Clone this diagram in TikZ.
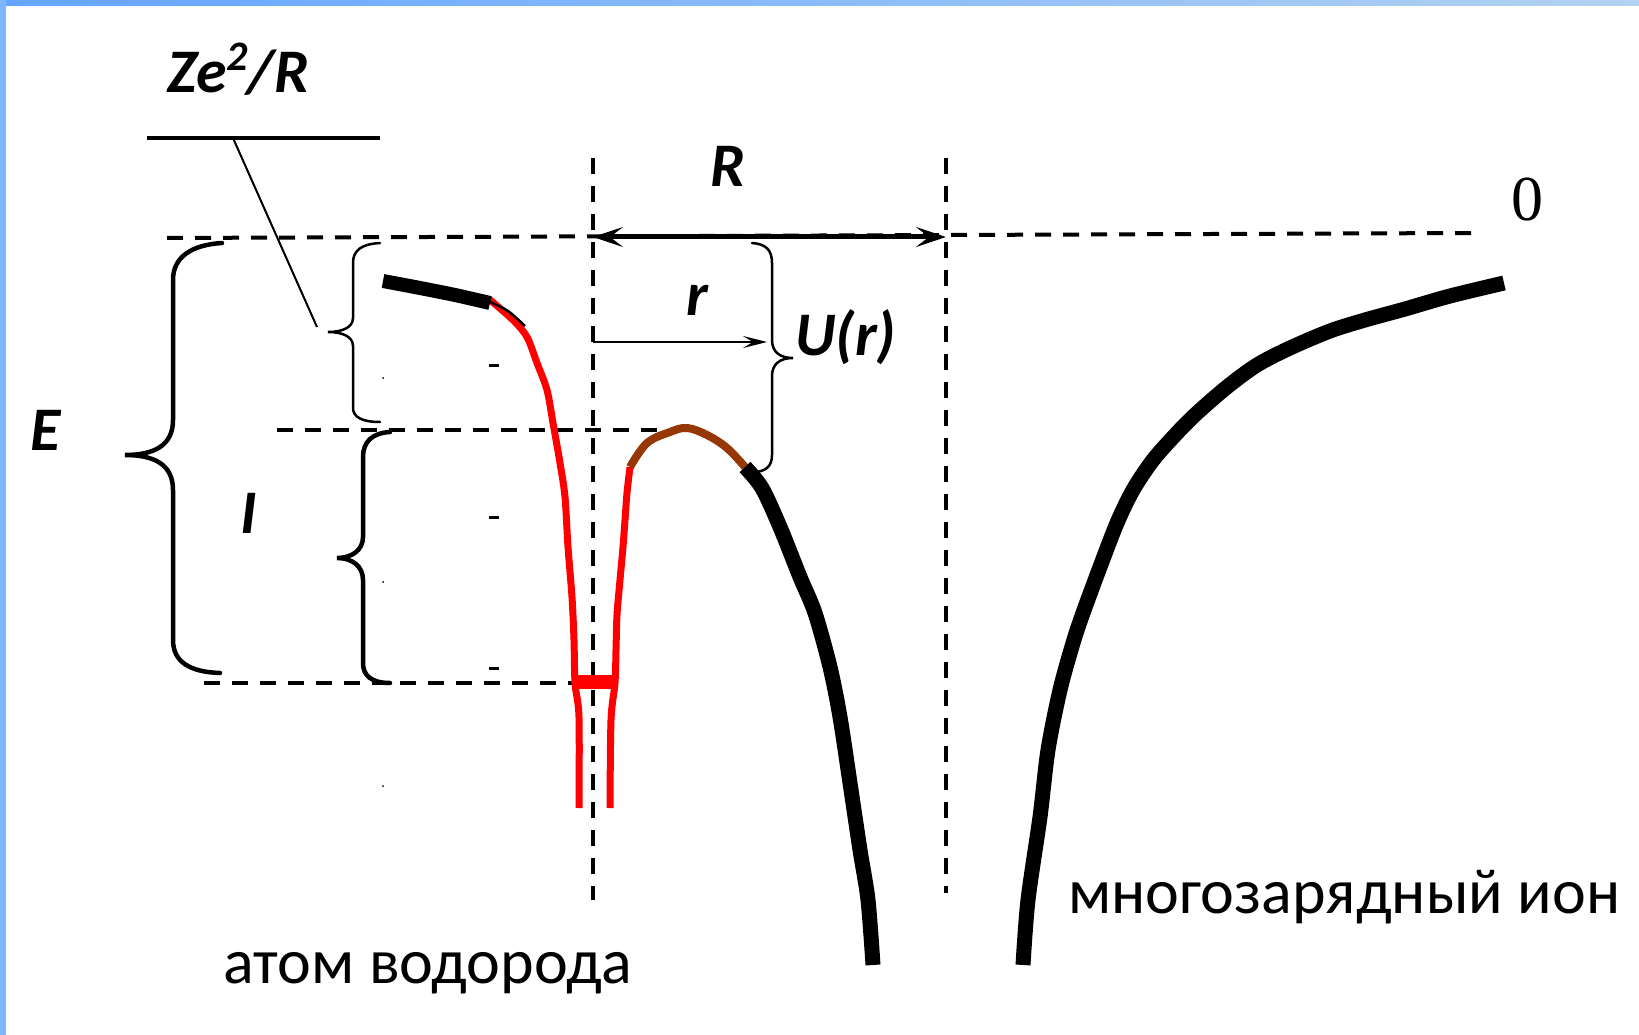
\documentclass[tikz,border=0pt]{standalone}
\usepackage{fontspec}
\setmainfont{Carlito}
\newfontfamily\serifzero{Liberation Serif}
\usetikzlibrary{arrows.meta}
\definecolor{barA}{RGB}{100,165,255}
\definecolor{barB}{RGB}{135,195,255}
\definecolor{barC}{RGB}{178,210,242}
\definecolor{barL}{RGB}{125,183,255}
\definecolor{wellred}{RGB}{255,0,0}
\definecolor{brownpeak}{RGB}{150,55,5}
\tikzset{
  bigtip/.tip={Stealth[length=30pt,width=20pt,inset=13pt]},
  smalltip/.tip={Stealth[length=24pt,width=12pt,inset=10pt]}}
\begin{document}
\begin{tikzpicture}[x=1pt,y=-1pt,
  dashline/.style={line width=4pt, dash pattern=on 16pt off 12pt},
  lbl/.style={font=\fontsize{62}{70}\selectfont\bfseries\itshape, inner sep=0pt},
  rus/.style={font=\fontsize{64}{70}\selectfont, inner sep=0pt},
  thickcurve/.style={line width=15pt, line join=round},
  redcurve/.style={wellred, line width=7pt, line join=round},
  bigbrace/.style={line width=4.5pt, line cap=round},
  smallbrace/.style={line width=2.5pt, line cap=round}]
\useasboundingbox (0,0) rectangle (1639,1035);
\fill[white] (0,0) rectangle (1639,1035);
% frame bars
\shade[left color=barA, middle color=barB, right color=barC] (0,0) rectangle (1639,6);
\fill[barL] (0,0) rectangle (6,1035);

% coordinates
\coordinate (topL) at (167,238);
\coordinate (topR) at (1472,233);
\coordinate (midL) at (277,430);
\coordinate (midR) at (685,430);
\coordinate (lowL) at (204,683);
\coordinate (lowR) at (578,683);
\coordinate (v1t) at (593,158);
\coordinate (v1b) at (593,900);
\coordinate (v2t) at (946,158);
\coordinate (v2b) at (946,893);
\coordinate (Rl) at (593,237);
\coordinate (Rr) at (946,237);
\coordinate (rl) at (593,342);
\coordinate (rr) at (767,342);

% dashed guide lines
\draw[dashline] (topL) -- (topR);
\draw[dashline] (midL) -- (midR);
\draw[dashline] (lowL) -- (lowR);
\draw[dashline] (v1t) -- (v1b);
\draw[dashline] (v2t) -- (v2b);

% R and r arrows
\draw[line width=5pt, bigtip-bigtip] (Rl) -- (Rr);
\draw[line width=2pt, -smalltip] (rl) -- (rr);

% Ze^2/R label line
\coordinate (zl) at (147,138);
\coordinate (zr) at (380,138);
\coordinate (zs) at (233,138);
\coordinate (zt) at (317,327);
\draw[line width=3.5pt] (zl) -- (zr);
\draw[line width=2pt] (zs) -- (zt);

% braces
\draw[bigbrace] (222,243) .. controls (190,245) and (173,258) .. (173,280) -- (173,420)
  .. controls (173,445) and (155,455) .. (125,455)
  .. controls (155,455) and (173,465) .. (173,490) -- (173,640)
  .. controls (173,662) and (190,672) .. (220,673);
\draw[bigbrace] (390,432) .. controls (372,433) and (363,442) .. (363,457) -- (363,537)
  .. controls (363,550) and (352,558) .. (337,558)
  .. controls (352,558) and (363,566) .. (363,580) -- (363,663)
  .. controls (363,676) and (372,683) .. (390,683);
\draw[smallbrace] (380,243) .. controls (362,244) and (353,250) .. (353,263) -- (353,318)
  .. controls (353,327) and (343,332) .. (328,332)
  .. controls (343,332) and (353,337) .. (353,346) -- (353,408)
  .. controls (353,417) and (362,422) .. (380,422);
\draw[smallbrace] (752,243) .. controls (766,244) and (772,250) .. (772,263) -- (772,340)
  .. controls (772,352) and (780,358) .. (793,358)
  .. controls (780,358) and (772,364) .. (772,376) -- (772,455)
  .. controls (772,466) and (766,472) .. (753,472);

% small ticks and dots
\foreach \yy in {365,517,668} \draw[line width=3pt] (489,\yy) -- (499,\yy);
\foreach \yy in {378,582,786} \fill (383,\yy) circle (1pt);

% hydrogen well (red)
\draw[redcurve] plot[smooth, tension=0.5] coordinates {(489,299) (513,320) (527,337) (537,363) (547,390) (553,423) (560,463) (565,497) (568,547) (572,597) (574,640) (575,683) (579,717) (579,808)};
\draw[redcurve] plot[smooth, tension=0.5] coordinates {(630,467) (627,493) (625,520) (623,547) (620,580) (617,615) (616,650) (615,683) (611,720) (610,808)};
\draw[wellred, line width=14pt] (575,682) -- (616,682);

% barrier top (brown)
\draw[brownpeak, line width=8pt, line join=round] plot[smooth, tension=0.6] coordinates {(630,467) (647,443) (670,432) (687,428) (707,435) (727,448) (745,467)};

% black curves
\draw[line width=14pt] plot[smooth, tension=0.5] coordinates {(383,281) (420,288) (455,295) (490,303)};
\draw[line width=2.5pt] plot[smooth] coordinates {(488,301) (508,311) (525,326)};
\draw[thickcurve] plot[smooth, tension=0.5] coordinates {(745,467) (762,488) (780,527) (800,577) (815,613) (830,667) (840,717) (850,783) (860,850) (868,900) (873,965)};
\draw[thickcurve] plot[smooth, tension=0.5] coordinates {(1023,965) (1028,900) (1040,817) (1048,750) (1060,690) (1073,643) (1083,613) (1100,567) (1117,523) (1133,490) (1153,460) (1177,433) (1197,413) (1227,387) (1257,365) (1290,348) (1330,331) (1365,320) (1405,309) (1450,296) (1504,283)};

% labels
\node[lbl, anchor=base west] (zelbl) at (167,93) {Ze\raisebox{0.36em}{\fontsize{42}{42}\selectfont 2}/R};
\node[lbl, anchor=base] (Rlbl) at (728,187) {R};
\node[lbl, anchor=base] (rlbl) at (697,315) {r};
\node[lbl, anchor=base west] (Ulbl) at (795,355) {U(r)};
\node[lbl, anchor=base west] (Elbl) at (30,450) {E};
\node[lbl, anchor=base west] (Ilbl) at (240,533) {I};
\node[inner sep=0pt, font=\serifzero\fontsize{64}{70}\selectfont] (zero) at (1527,200) {0};
\node[rus, anchor=base west] (hatom) at (223,983) {атом водорода};
\node[rus, anchor=base west] (ion) at (1068,913) {многозарядный ион};
\end{tikzpicture}
\end{document}
